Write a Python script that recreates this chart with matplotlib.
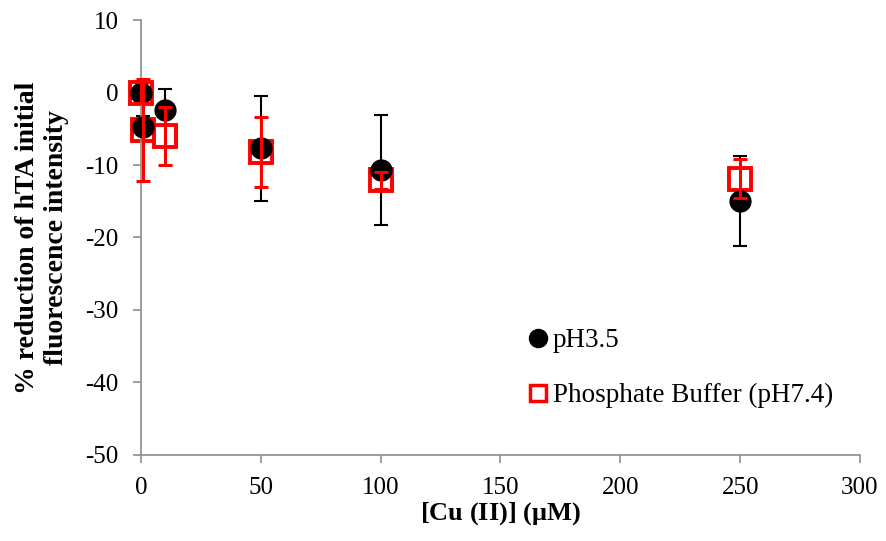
"""Copper-induced reduction of hTA fluorescence at two pH conditions."""

import matplotlib

matplotlib.use("Agg")
import matplotlib.pyplot as plt
from matplotlib.lines import Line2D

# [Cu(II)] in uM
cu_ph35 = [0, 1, 10, 50, 100, 250]
red_ph35 = [0.0, -4.7, -2.4, -7.7, -10.7, -15.0]
err_ph35 = [1.0, 1.5, 2.9, 7.2, 7.6, 6.2]

cu_pb = [0, 1, 10, 50, 100, 250]
red_pb = [0.0, -5.2, -6.0, -8.2, -12.1, -11.9]
err_pb = [1.5, 7.0, 4.0, 4.8, 1.2, 2.7]

x_ticks = [0, 50, 100, 150, 200, 250, 300]
y_ticks = [-50, -40, -30, -20, -10, 0, 10]

plt.rcParams.update({
    "font.family": ["Liberation Serif", "DejaVu Serif"],
    "axes.unicode_minus": False,
    "mathtext.fontset": "custom",
    "mathtext.rm": "Liberation Serif",
    "mathtext.bf": "Liberation Serif:bold",
})

fig = plt.figure(figsize=(8.87, 5.41), dpi=100)
ax = fig.add_axes([0.159, 0.159, 0.8105, 0.804])

# pH 3.5 error bars sit below the open squares, markers above them;
# the phosphate error bars go on top of everything.
black_err = ax.errorbar(cu_ph35, red_ph35, yerr=err_ph35, marker="none",
                        linestyle="none", ecolor="black", elinewidth=1.5,
                        capsize=5, capthick=1.5, zorder=1.5)
black_pts = ax.plot(cu_ph35, red_ph35, "o", color="black", markersize=15,
                    zorder=3)[0]
red_pts = ax.plot(cu_pb, red_pb, "s", markerfacecolor="white",
                  markeredgecolor="red", markeredgewidth=2.8, markersize=16,
                  zorder=2)[0]
red_err = ax.errorbar(cu_pb, red_pb, yerr=err_pb, marker="none",
                      linestyle="none", ecolor="red", elinewidth=2.2,
                      capsize=5, capthick=2.2, zorder=4)

for artist in [black_pts, red_pts]:
    artist.set_clip_on(False)
for container in (black_err, red_err):
    for artist in container[1] + container[2]:
        artist.set_clip_on(False)

ax.set_xlim(0, 300)
ax.set_ylim(-50, 10)
ax.set_xticks(x_ticks)
ax.set_yticks(y_ticks)
ax.tick_params(axis="both", direction="out", length=6, width=1.2,
               color="#8c8c8c", labelsize=18)
ax.tick_params(axis="y", pad=10)
ax.tick_params(axis="x", pad=10)

for side in ("top", "right"):
    ax.spines[side].set_visible(False)
for side in ("left", "bottom"):
    ax.spines[side].set_color("#8c8c8c")
    ax.spines[side].set_linewidth(1.2)

ax.set_xlabel(r"[Cu (II)] ($\mathbf{\mu}$M)", fontsize=19, fontweight="bold",
              labelpad=1)
ax.set_ylabel("% reduction of hTA initial\nfluorescence intensity",
              fontsize=20, fontweight="bold", labelpad=12, linespacing=1.2)

handles = [
    Line2D([], [], linestyle="none", marker="o", color="black", markersize=13),
    Line2D([], [], linestyle="none", marker="s", markerfacecolor="white",
           markeredgecolor="red", markeredgewidth=2.5, markersize=12),
]
ax.legend(handles, ["pH3.5", "Phosphate Buffer (pH7.4)"], loc="upper left",
          bbox_to_anchor=(0.518, 0.316), frameon=False, fontsize=19.5,
          handletextpad=0.05, labelspacing=1.1, borderaxespad=0,
          handlelength=1.0)

fig.savefig("out.png", dpi=100)
